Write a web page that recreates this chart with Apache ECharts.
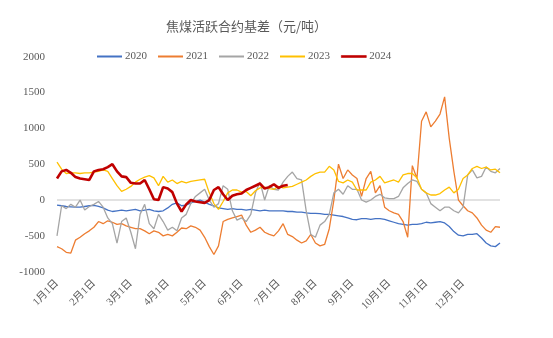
<!DOCTYPE html>
<html>
<head>
<meta charset="utf-8">
<script src="https://cdn.jsdelivr.net/npm/echarts@6/dist/echarts.min.js"></script>
<style>html,body{margin:0;padding:0;background:#fff;}#c{width:553px;height:338px;}</style>
</head>
<body>
<div id="c"></div>
<script>
// Month labels shown on the x axis (one every 8 sample points)
var monthLabels = ['1月1日','2月1日','3月1日','4月1日','5月1日','6月1日','7月1日','8月1日','9月1日','10月1日','11月1日','12月1日'];
var seriesNames = ['2020','2021','2022','2023','2024'];

var y2020 = [-70,-80,-90,-95,-100,-100,-90,-80,-75,
 -90,-110,-140,-160,-150,-140,-150,-140,
 -130,-150,-140,-130,-150,-160,-150,-110,
 -60,-40,-80,-70,-40,-20,0,-30,
 -60,-80,-110,-120,-130,-120,-130,-130,
 -140,-130,-140,-150,-140,-150,-150,-150,
 -150,-160,-160,-170,-170,-180,-185,-185,
 -190,-200,-200,-210,-220,-230,-250,-270,
 -275,-260,-260,-270,-260,-260,-270,-290,
 -310,-330,-340,-350,-340,-340,-330,-310,
 -320,-310,-300,-320,-370,-440,-490,-500,
 -480,-480,-470,-530,-600,-640,-650,-600];

var y2021 = [-650,-680,-730,-740,-560,-520,-470,-430,-380,
 -300,-330,-290,-310,-340,-330,-360,-380,
 -400,-400,-430,-470,-430,-450,-500,-480,
 -500,-450,-390,-400,-360,-380,-420,-520,
 -650,-760,-640,-300,-270,-250,-230,-210,
 -350,-450,-420,-380,-450,-480,-500,-430,
 -330,-480,-510,-560,-600,-570,-480,-600,
 -640,-620,-400,0,500,300,420,350,
 300,50,300,400,100,200,-100,-150,
 -180,-200,-300,-520,480,300,1100,1230,
 1020,1100,1200,1440,860,400,0,-80,
 -150,-180,-250,-350,-420,-450,-370,-380];

var y2022 = [-500,-80,-120,-60,-100,0,-140,-90,-60,
 -20,-100,-250,-330,-600,-300,-250,-450,
 -680,-200,-60,-330,-400,-200,-300,-420,
 -380,-430,-250,-200,-50,50,100,150,
 0,-100,-50,200,150,-150,-280,-250,
 -300,-200,100,250,0,200,150,140,
 250,330,390,300,280,-150,-480,-520,
 -350,-300,-200,100,150,80,200,150,
 150,0,-30,0,50,80,30,20,
 20,50,170,230,280,260,150,100,
 -50,-100,-150,-100,-100,-150,-180,-100,
 350,420,310,330,460,400,380,440];

var y2023 = [530,430,370,380,380,370,380,380,390,
 400,420,400,300,200,120,150,190,
 250,290,320,340,310,200,330,250,
 280,230,260,240,260,270,280,290,
 100,-50,-130,-20,100,140,140,110,
 120,60,130,170,180,160,150,190,
 170,180,190,220,250,280,330,370,
 390,390,470,420,260,240,280,250,
 140,140,140,250,280,330,240,260,
 280,250,350,370,370,310,150,100,
 70,70,90,140,180,100,150,300,
 350,440,470,440,460,420,430,380];

var y2024 = [300,400,420,380,320,300,290,280,400,
 420,430,460,500,400,330,320,240,
 230,230,280,150,10,0,180,160,
 110,-50,-160,-60,0,-20,-30,-40,
 0,140,180,80,0,60,80,90,
 140,170,200,230,160,180,220,170,
 200,210];

var categories = [];
for (var i = 0; i < y2020.length; i++) {
  categories.push(i % 8 === 0 && i / 8 < monthLabels.length ? monthLabels[i / 8] : '');
}

var colors = ['#4472C4','#ED7D31','#A5A5A5','#FFC000','#C00000'];
var dataList = [y2020, y2021, y2022, y2023, y2024];
var numFont = "'Liberation Serif','Noto Sans CJK SC',serif";

var series = seriesNames.map(function (n, k) {
  return {
    name: n, type: 'line', data: dataList[k], symbol: 'none', showSymbol: false, smooth: false,
    lineStyle: { color: colors[k], width: k === 4 ? 2.6 : 1.3 },
    itemStyle: { color: colors[k] },
    z: k === 4 ? 5 : 2
  };
});

var legendData = seriesNames.map(function (n, k) {
  return { name: n, icon: 'rect', itemStyle: { color: colors[k], borderColor: colors[k], borderWidth: k === 4 ? 0.6 : 0 } };
});

var chart = echarts.init(document.getElementById('c'), null, { renderer: 'canvas' });
chart.setOption({
  animation: false,
  backgroundColor: '#fff',
  title: {
    text: '焦煤活跃合约基差（元/吨）',
    left: 161, top: 15,
    textStyle: { fontSize: 13, fontWeight: 'normal', color: '#595959', fontFamily: "'Noto Sans CJK SC',sans-serif" }
  },
  legend: {
    data: legendData, left: 97, top: 51, padding: 0, itemWidth: 25, itemHeight: 2, itemGap: 11,
    textStyle: { fontSize: 11, color: '#595959', fontFamily: numFont, padding: [0, 0, 0, -2] }
  },
  grid: { left: 57, right: 53, top: 56.7, bottom: 66.3, containLabel: false },
  xAxis: {
    type: 'category', data: categories, boundaryGap: false,
    axisLine: { show: false }, axisTick: { show: false },
    axisLabel: { interval: 0, rotate: 45, margin: 10, fontSize: 10.5, color: '#595959', fontFamily: numFont },
    splitLine: { show: false }
  },
  yAxis: {
    type: 'value', min: -1000, max: 2000, interval: 500,
    axisLine: { show: false }, axisTick: { show: false },
    axisLabel: { margin: 12, fontSize: 11, color: '#595959', fontFamily: numFont, formatter: function (v) { return String(v); } },
    splitLine: { show: true, lineStyle: { width: 1.5, color: ['rgba(0,0,0,0)','rgba(0,0,0,0)','#D9D9D9','rgba(0,0,0,0)','rgba(0,0,0,0)','rgba(0,0,0,0)','rgba(0,0,0,0)'] } }
  },
  series: series
});
</script>
</body>
</html>
